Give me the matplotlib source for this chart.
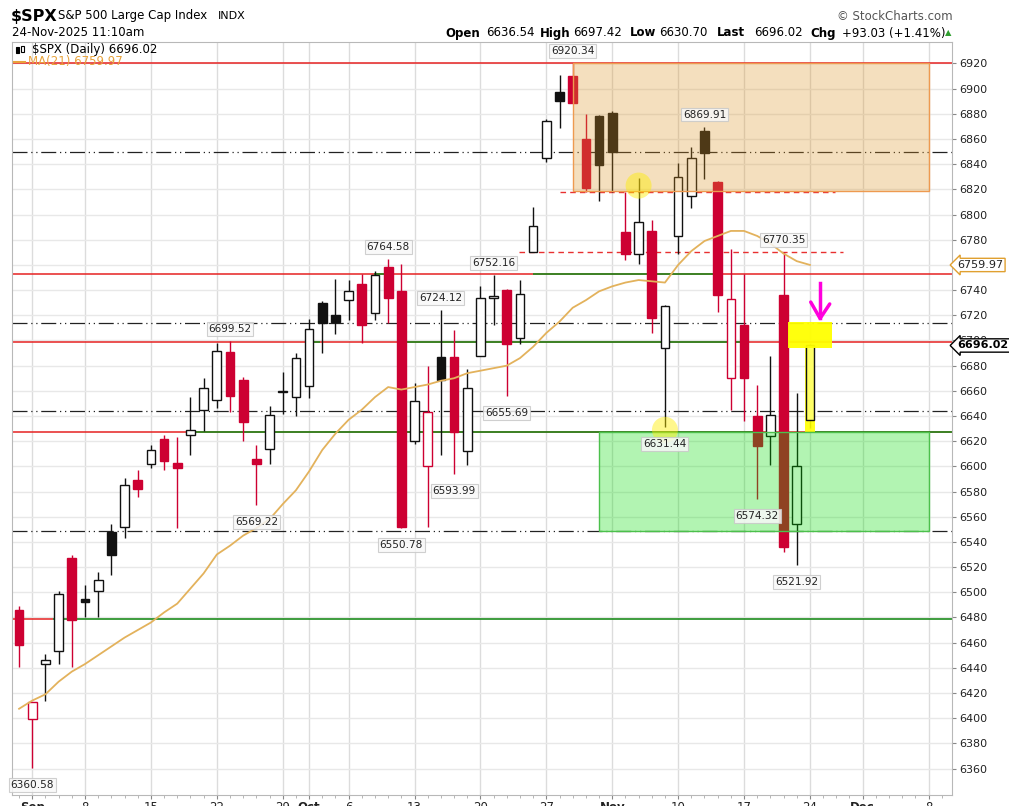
import matplotlib
matplotlib.use('Agg')
import matplotlib.pyplot as plt
from matplotlib.patches import Rectangle, Ellipse
import numpy as np

# daily bars 29-Aug-2025 .. 24-Nov-2025, one entry per trading day
opens = [6486, 6399, 6443, 6453, 6527, 6495, 6501, 6548, 6552, 6589,
         6602, 6622, 6603, 6625, 6645, 6653, 6691, 6669, 6606, 6614,
         6659, 6655, 6664, 6730, 6720, 6732, 6745, 6722, 6758, 6739,
         6620, 6600, 6687, 6687, 6612, 6688, 6734, 6740, 6702, 6770,
         6845, 6897, 6910, 6860, 6878, 6881, 6786, 6769, 6787, 6694,
         6783, 6815, 6866, 6826, 6670, 6712, 6640, 6624, 6736, 6554,
         6636.54]
highs = [6489, 6413, 6451, 6501, 6530, 6506, 6516, 6554, 6591, 6597,
         6617, 6625, 6623, 6655, 6670, 6698, 6699.52, 6671, 6617, 6648,
         6675, 6690, 6717, 6731, 6749, 6748, 6753, 6755, 6764.58, 6761,
         6666, 6680, 6724.12, 6708, 6677, 6743, 6752.16, 6741, 6748, 6806,
         6876, 6911, 6920.34, 6880, 6879, 6882, 6818, 6829, 6796, 6728,
         6841, 6854, 6869.91, 6827, 6773, 6753, 6665, 6688, 6770.35, 6658,
         6697.42]
lows = [6441, 6360.58, 6414, 6443, 6441, 6480, 6480, 6514, 6543, 6576,
        6599, 6597, 6551, 6609, 6628, 6646, 6643, 6620, 6569.22, 6602,
        6642, 6640, 6654, 6690, 6705, 6716, 6698, 6716, 6714, 6550.78,
        6618, 6552, 6609, 6593.99, 6601, 6688, 6712, 6655.69, 6697, 6770,
        6842, 6869, 6889, 6818, 6811, 6818, 6764, 6761, 6706, 6631.44,
        6769, 6805, 6828, 6723, 6645, 6636, 6574.32, 6601, 6532, 6521.92,
        6630.70]
closes = [6458, 6413, 6446, 6499, 6478, 6492, 6510, 6530, 6585, 6582,
          6613, 6604, 6599, 6629, 6662, 6692, 6656, 6635, 6602, 6641,
          6660, 6686, 6709, 6714, 6715, 6739, 6712, 6752, 6734, 6552,
          6652, 6643, 6669, 6627, 6662, 6734, 6735, 6697, 6737, 6791,
          6874, 6890, 6889, 6821, 6839, 6850, 6769, 6794, 6718, 6727,
          6830, 6845, 6849, 6736, 6733, 6670, 6616, 6641, 6536, 6600,
          6696.02]
ma21 = [6407.5, 6414, 6419, 6429, 6437, 6443, 6450, 6457, 6464, 6470,
        6476, 6484, 6491, 6503, 6515, 6530, 6537, 6545, 6551, 6558,
        6570, 6581, 6596, 6613, 6626, 6637, 6645, 6655, 6663, 6661,
        6663, 6665, 6668, 6670, 6674, 6676, 6678, 6680, 6686, 6695,
        6706, 6715, 6726, 6732, 6739, 6743, 6746, 6748, 6747, 6746,
        6760, 6771, 6779, 6783, 6787, 6787, 6783, 6777, 6769, 6763,
        6760]
ma_last = 6759.97
prev_close = 6501.9  # close of 28-Aug, colours the first bar

tick_pos = [1, 5, 10, 15, 20, 22, 25, 30, 35, 40, 45, 50, 55, 60, 64, 69]
tick_labels = ['Sep', '8', '15', '22', '29', 'Oct', '6', '13', '20', '27',
               'Nov', '10', '17', '24', 'Dec', '8']
months = ['Sep', 'Oct', 'Nov', 'Dec']

high_labels = [16, 28, 32, 36, 42, 52, 58]
low_labels = [1, 18, 29, 33, 37, 49, 56, 59]

# chart drawings (support / resistance)
red_levels = [6920, 6753, 6699, 6627]
green_segments = [(6753, 26.9, 28.0), (6753, 39.0, 53.0),
                  (6699, 21.8, 22.8), (6699, 28.9, 54.9),
                  (6627, 13.0, 56.0), (6627, 60.0, 71),
                  (6479, 2.6, 71)]
red_left_6479 = (6479, -1, 2.6)
dashdot_levels = [6850, 6714, 6644, 6549]
red_dashed = [(6818, 41.0, 61.9), (6770, 37.9, 62.5)]
orange_zone = (42, 69, 6818.5, 6920)
green_zone = (44, 69, 6549, 6627)
circles = [(47, 6823), (49, 6629)]

W, H = 1009, 806
RED = '#CD0032'
LINE_RED = '#E62222'
GREEN = '#1E8C1E'

plt.rcParams['font.family'] = 'DejaVu Sans'
fig = plt.figure(figsize=(W / 100, H / 100), dpi=100)
ax = fig.add_axes([11.7 / W, 11 / H, 940.6 / W, 753.3 / H])
ax.set_xlim(-0.56, 70.8)
ax.set_ylim(6339, 6937.3)

# grid
for t in tick_pos:
    ax.axvline(t, color='#dcdcdc', lw=1, zorder=0)
for p in range(6360, 6940, 20):
    ax.axhline(p, color='#e8e8e8', lw=1, zorder=0)

# horizontal drawings
for lvl in red_levels:
    ax.axhline(lvl, color=LINE_RED, lw=1.1, zorder=1)
for lvl, x0, x1 in green_segments:
    ax.hlines(lvl, x0, x1, color=GREEN, lw=1.2, zorder=1.1)
ax.hlines(red_left_6479[0], red_left_6479[1], red_left_6479[2], color=LINE_RED, lw=1.1, zorder=1.1)
for lvl in dashdot_levels:
    ax.axhline(lvl, color='#222222', lw=0.9, dashes=(12, 3, 1, 3, 1, 3), zorder=1)
for lvl, x0, x1 in red_dashed:
    ax.hlines(lvl, x0, x1, color='#E83030', lw=1, linestyles=(0, (4, 3)), zorder=1)

# candles
x = np.arange(len(closes))
prev = [prev_close] + closes[:-1]
for i in x:
    o, h, l, c = opens[i], highs[i], lows[i], closes[i]
    col = RED if c < prev[i] else '#111111'
    hollow = c >= o
    face = 'white' if hollow else col
    if i == len(closes) - 1:
        face = '#FFFF66'
    ax.vlines(i, l, h, color=col, lw=1, zorder=2)
    ax.bar(i, max(abs(c - o), 0.6), bottom=min(o, c), width=0.66,
           color=face, edgecolor=col, linewidth=1, zorder=3)

ax.plot(x, ma21, color='#E3B25C', lw=1.3, zorder=4)

# shaded zones and highlights
ox0, ox1, oy0, oy1 = orange_zone
ax.add_patch(Rectangle((ox0, oy0), ox1 - ox0, oy1 - oy0, facecolor='#DC9628',
                       alpha=0.3, edgecolor='none', zorder=5))
ax.add_patch(Rectangle((ox0, oy0), ox1 - ox0, oy1 - oy0, facecolor='none',
                       edgecolor='#EE9A50', lw=1, zorder=5))
gx0, gx1, gy0, gy1 = green_zone
ax.add_patch(Rectangle((gx0, gy0), gx1 - gx0, gy1 - gy0, facecolor='#00DD00',
                       alpha=0.3, edgecolor='none', zorder=5))
ax.add_patch(Rectangle((gx0, gy0), gx1 - gx0, gy1 - gy0, facecolor='none',
                       edgecolor='#4CC04C', lw=1, zorder=5))
for cx, cy in circles:
    ax.add_patch(Ellipse((cx, cy), 1.97, 20.7, facecolor='#FFEE00', alpha=0.45,
                         edgecolor='none', zorder=6))

# yellow marker and magenta arrow on the last bar
ax.add_patch(Rectangle((58.3, 6694), 3.4, 21, facecolor='#FFFF00', alpha=0.95,
                       edgecolor='none', zorder=6))
ax.add_patch(Rectangle((59.6, 6627), 0.8, 68, facecolor='#FFFF00', alpha=0.9,
                       edgecolor='none', zorder=2.5))
ax.plot([60.77, 60.77], [6745.7, 6717.5], color='#FF00DD', lw=2.5, zorder=7)
ax.plot([60.06, 60.77, 61.5], [6730.5, 6717.5, 6729], color='#FF00DD', lw=2.5,
        zorder=7, solid_capstyle='round')

# high / low value labels
lab_box = dict(boxstyle='square,pad=0.18', facecolor='#f8f8f8', edgecolor='#c8c8c8',
               lw=0.8, alpha=0.85)
for i in high_labels:
    ax.annotate('%.2f' % highs[i], (i, highs[i]), xytext=(0, 12), textcoords='offset pixels',
                ha='center', va='center', fontsize=7.6, color='#222', bbox=lab_box, zorder=8)
for i in low_labels:
    ax.annotate('%.2f' % lows[i], (i, lows[i]), xytext=(0, -17), textcoords='offset pixels',
                ha='center', va='center', fontsize=7.6, color='#222', bbox=lab_box, zorder=8)

# axes styling
for s in ax.spines.values():
    s.set_color('#b8b8b8')
ax.yaxis.tick_right()
ax.set_yticks(range(6360, 6940, 20))
ax.tick_params(axis='y', length=3, color='#888', labelsize=8, labelcolor='#222', pad=2)
ax.set_xticks(tick_pos)
ax.set_xticklabels(tick_labels, fontsize=8.5, color='#222')
for lab in ax.get_xticklabels():
    if lab.get_text() in months:
        lab.set_fontweight('bold')
ax.set_xticks(np.arange(0, 71), minor=True)
ax.tick_params(axis='x', which='major', length=3, color='#888', pad=1)
ax.tick_params(axis='x', which='minor', length=2, color='#aaa')

# last value tags on the price axis
ax.annotate('%.2f' % ma_last, (1, ma_last),
            xycoords=('axes fraction', 'data'), xytext=(5, 0), textcoords='offset pixels',
            ha='left', va='center', fontsize=8, color='#222', annotation_clip=False,
            bbox=dict(boxstyle='larrow,pad=0.15', facecolor='white', edgecolor='#E0A030', lw=1))
ax.annotate('%.2f' % closes[-1], (1, closes[-1]),
            xycoords=('axes fraction', 'data'), xytext=(5, 0), textcoords='offset pixels',
            ha='left', va='center', fontsize=8, color='black', fontweight='bold',
            annotation_clip=False,
            bbox=dict(boxstyle='larrow,pad=0.15', facecolor='white', edgecolor='black', lw=1))


def fx(px):
    return px / W


def fy(py):
    return 1 - py / H


# header
fig.text(fx(11), fy(16), '$SPX', fontsize=11.5, fontweight='bold', va='center')
fig.text(fx(58), fy(16), 'S&P 500 Large Cap Index', fontsize=8.5, va='center')
fig.text(fx(218), fy(16), 'INDX', fontsize=8, va='center')
fig.text(fx(12), fy(33), '24-Nov-2025 11:10am', fontsize=8.5, va='center')
fig.text(fx(953), fy(17), '\u00a9 StockCharts.com', fontsize=8.5, color='#555', va='center', ha='right')

parts = [(445, 'Open', True), (486, '6636.54', False), (540, 'High', True),
         (573, '6697.42', False), (630, 'Low', True), (659, '6630.70', False),
         (717, 'Last', True), (754, '6696.02', False), (810, 'Chg', True),
         (842, '+93.03 (+1.41%)', False)]
for px_, txt, bold in parts:
    fig.text(fx(px_), fy(33), txt, fontsize=8.5, va='center',
             fontweight='bold' if bold else 'normal')
fig.text(fx(945), fy(33), '\u25b2', fontsize=6, color='#2E9E2E', va='center')

# legend inside the chart
fig.add_artist(Rectangle((fx(16), fy(53)), 3 / W, 6 / H, facecolor='black', edgecolor='black',
                         lw=0.8, transform=fig.transFigure))
fig.add_artist(Rectangle((fx(21), fy(52)), 3 / W, 6 / H, facecolor='white', edgecolor='black',
                         lw=0.8, transform=fig.transFigure))
fig.text(fx(32), fy(50), '$SPX (Daily) 6696.02', fontsize=8.5, va='center')
fig.add_artist(plt.Line2D([fx(14), fx(25)], [fy(62), fy(62)], color='#E8A33C', lw=1.5,
                          transform=fig.transFigure))
fig.text(fx(28), fy(62), 'MA(21) %.2f' % ma_last, fontsize=8.5, color='#E8A33C', va='center')

fig.savefig('out.png', dpi=100)
